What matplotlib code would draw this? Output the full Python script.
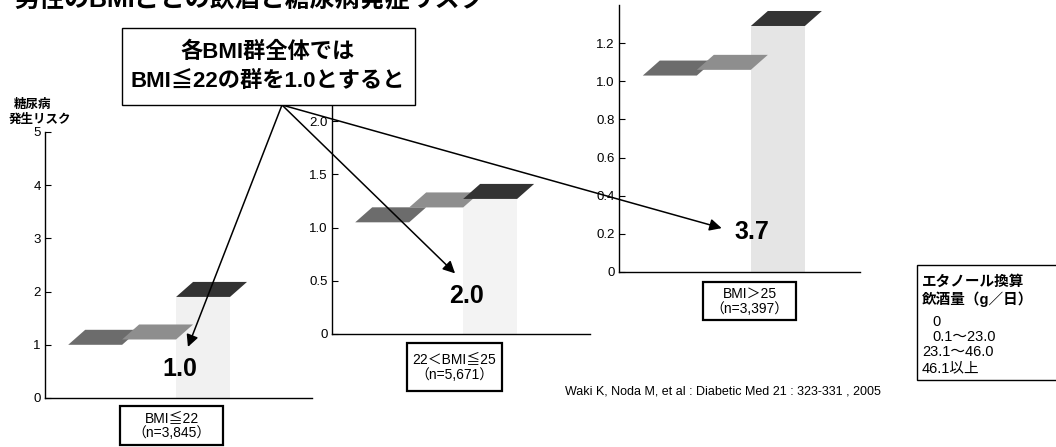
import matplotlib
matplotlib.use("Agg")
import matplotlib.pyplot as plt
from matplotlib.patches import Polygon, Rectangle

plt.rcParams['font.family'] = ['Liberation Sans', 'Noto Sans CJK JP', 'DejaVu Sans']

W, H = 1056, 447

# data
groups = ["BMI≦22\n（n=3,845）", "22＜BMI≦25\n（n=5,671）", "BMI＞25\n（n=3,397）"]
overall_ratio = ["1.0", "2.0", "3.7"]
drink_labels = ["0", "0.1〜23.0", "23.1〜46.0", "46.1以上"]
risk_bmi22 = [1.0, 1.1, 1.9]
risk_bmi22_25 = [1.05, 1.19, 1.27]
risk_bmi25 = [1.03, 1.06, 1.29]
top_colors = ["#6c6c6c", "#8e8e8e", "#333333"]

yticks_1 = [0, 1, 2, 3, 4, 5]
yticks_2 = [0, 0.5, 1.0, 1.5, 2.0]
yticks_3 = [0, 0.2, 0.4, 0.6, 0.8, 1.0, 1.2]

DX, DY = 17, 15  # depth of the bar tops, pixels


def fx(x):
    return x / W


def fy(y):
    return 1 - y / H


fig = plt.figure(figsize=(W / 100, H / 100), dpi=100)


def panel(x0, x1, y_top, y_bot, ylim, xlim, ticks, ticklabels):
    ax = fig.add_axes([fx(x0), fy(y_bot), (x1 - x0) / W, (y_bot - y_top) / H])
    ax.set_xlim(*xlim)
    ax.set_ylim(*ylim)
    ax.set_yticks(ticks)
    ax.set_yticklabels(ticklabels)
    ax.set_xticks([])
    for s in ["top", "right"]:
        ax.spines[s].set_visible(False)
    ax.spines["left"].set_linewidth(1.0)
    ax.spines["bottom"].set_linewidth(1.0)
    ax.tick_params(axis="y", direction="in", length=4, labelsize=9.5, pad=3)
    return ax


def draw_bars(ax, vals, body_alpha):
    # stippled body under the last bar
    ax.bar(len(vals) - 1, vals[-1], width=1, align="edge", color="#d8d8d8",
           alpha=body_alpha, linewidth=0, zorder=1)
    for i, v in enumerate(vals):
        front = ax.transData.transform([(i, v), (i + 1, v)])
        pts = [front[0], front[1], front[1] + [DX, DY], front[0] + [DX, DY]]
        pts = ax.transData.inverted().transform(pts)
        ax.add_patch(Polygon(pts, closed=True, facecolor=top_colors[i],
                             edgecolor="none", clip_on=False, zorder=2 + i))


ax1 = panel(45, 312, 132, 398, (0, 5), (-0.43, 4.52), yticks_1,
            [str(t) for t in yticks_1])
ax2 = panel(332, 590, 100, 334, (0, 2.2), (-0.43, 4.35), yticks_2,
            ["0", "0.5", "1.0", "1.5", "2.0"])
ax3 = panel(619, 860, 5, 272, (0, 1.4), (-0.44, 4.02), yticks_3,
            ["0", "0.2", "0.4", "0.6", "0.8", "1.0", "1.2"])

draw_bars(ax1, risk_bmi22, 0.35)
draw_bars(ax2, risk_bmi22_25, 0.3)
draw_bars(ax3, risk_bmi25, 0.65)

# overall ratio labels
ratio_pos = [(ax1, 2.07, 0.55), (ax2, 2.06, 0.36), (ax3, 2.02, 0.21)]
for (ax, x, y), lab in zip(ratio_pos, overall_ratio):
    ax.text(x, y, lab, ha="center", va="center", fontsize=18,
            fontweight="bold", zorder=6)

# arrows from the note box
arrow_tips = [(ax1, 2.22, 0.96), (ax2, 1.85, 0.57), (ax3, 1.46, 0.23)]
for ax, x, y in arrow_tips:
    ax.annotate("", xy=(x, y), xycoords="data",
                xytext=(fx(282), fy(105)), textcoords="figure fraction",
                annotation_clip=False,
                arrowprops=dict(arrowstyle="-|>", color="black", lw=1.1,
                                mutation_scale=18, shrinkA=0, shrinkB=0),
                zorder=7)


def box(x0, y0, x1, y1, lw):
    fig.add_artist(Rectangle((fx(x0), fy(y1)), (x1 - x0) / W, (y1 - y0) / H,
                             transform=fig.transFigure, facecolor="white",
                             edgecolor="black", linewidth=lw, zorder=5))


# note box
box(122, 28, 415, 105, 1.0)
fig.text(fx(268), fy(52), "各BMI群全体では", ha="center", va="center",
         fontsize=16, fontweight="bold", zorder=6)
fig.text(fx(268), fy(81), "BMI≦22の群を1.0とすると", ha="center", va="center",
         fontsize=16, fontweight="bold", zorder=6)

# group label boxes
group_boxes = [(120, 406, 223, 445), (407, 343, 502, 391), (703, 282, 796, 320)]
for (x0, y0, x1, y1), lab in zip(group_boxes, groups):
    box(x0, y0, x1, y1, 1.6)
    fig.text(fx((x0 + x1) / 2), fy((y0 + y1) / 2), lab, ha="center",
             va="center", fontsize=10, linespacing=1.1, zorder=6)

# title (cut off at top of the page)
fig.text(fx(14), fy(7), "男性のBMIごとの飲酒と糖尿病発症リスク", ha="left",
         va="baseline", fontsize=18, fontweight="bold")

# y label of first panel
fig.text(fx(32), fy(105), "糖尿病", ha="center", va="center",
         fontsize=9, fontweight="bold")
fig.text(fx(40), fy(120), "発生リスク", ha="center", va="center",
         fontsize=9, fontweight="bold")

# legend
box(917, 265, 1062, 380, 1.0)
legend_lines = ["エタノール換算", "飲酒量（g／日）"]
fig.text(fx(922), fy(282), legend_lines[0], ha="left", va="center",
         fontsize=10.5, fontweight="bold", zorder=6)
fig.text(fx(922), fy(299), legend_lines[1], ha="left", va="center",
         fontsize=10.5, fontweight="bold", zorder=6)
legend_x = [932, 932, 922, 922]
legend_y = [322, 337, 352, 368]
for lab, x, y in zip(drink_labels, legend_x, legend_y):
    fig.text(fx(x), fy(y), lab, ha="left", va="center", fontsize=10.5, zorder=6)

# citation
fig.text(fx(565), fy(392), "Waki K, Noda M, et al : Diabetic Med 21 : 323-331 , 2005",
         ha="left", va="center", fontsize=9)

fig.savefig("out.png", dpi=100)
